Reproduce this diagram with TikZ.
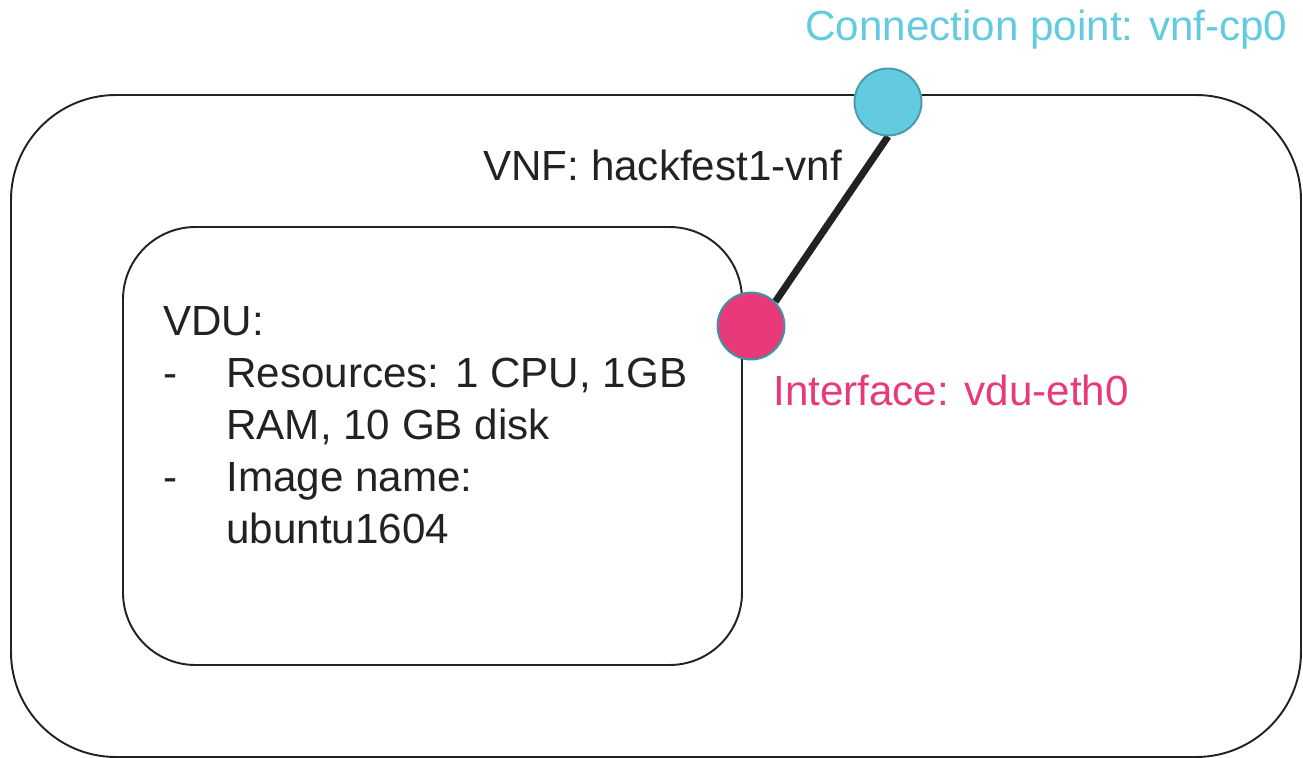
\documentclass[tikz,border=0pt]{standalone}
\usepackage{fontspec}
\setmainfont{Liberation Sans}
\usetikzlibrary{backgrounds}
\definecolor{cpblue}{HTML}{62CBE0}
\definecolor{cpedge}{HTML}{4A9BAA}
\definecolor{ifpink}{HTML}{E8397A}
\definecolor{ifedge}{HTML}{3A97A5}
\definecolor{ink}{HTML}{222222}
\tikzset{
	txt/.style={inner sep=0pt, anchor=base west, text=ink, font=\fontsize{24}{29}\selectfont},
	port/.style={circle, minimum size=1.34cm, inner sep=0pt, line width=1.1pt},
}
\begin{document}
\begin{tikzpicture}[x=0.02cm, y=-0.02cm]
	\useasboundingbox (0, 0) rectangle (1303, 758);
	% boxes
	\draw[ink, line width=1.1pt, rounded corners=2.1cm] (11, 95) rectangle (1301, 757);
	\draw[ink, line width=1.1pt, rounded corners=1.45cm] (123, 227) rectangle (742, 665);
	% texts
	\node[txt] (vnf) at (483, 180) {VNF: hackfest1-vnf};
	\node[txt] (vdu) at (163, 335) {VDU:};
	\node[txt] (dash1) at (163, 387) {-};
	\node[txt] (res1) at (226, 387) {Resources: 1 CPU, 1GB};
	\node[txt] (res2) at (226, 439) {RAM, 10 GB disk};
	\node[txt] (dash2) at (163, 491) {-};
	\node[txt] (img1) at (226, 491) {Image name:};
	\node[txt] (img2) at (226, 543) {ubuntu1604};
	\node[txt, text=ifpink] (iflabel) at (773, 405) {Interface: vdu-eth0};
	\node[txt, text=cpblue] (cplabel) at (805, 40) {Connection point: vnf-cp0};
	% ports
	\node[port, fill=cpblue, draw=cpedge] (cp) at (888, 102) {};
	\node[port, fill=ifpink, draw=ifedge] (eth) at (751, 326) {};
	\begin{scope}[on background layer]
		\draw[ink, line width=4pt] (cp.south) -- (eth.north east);
	\end{scope}
\end{tikzpicture}
\end{document}
